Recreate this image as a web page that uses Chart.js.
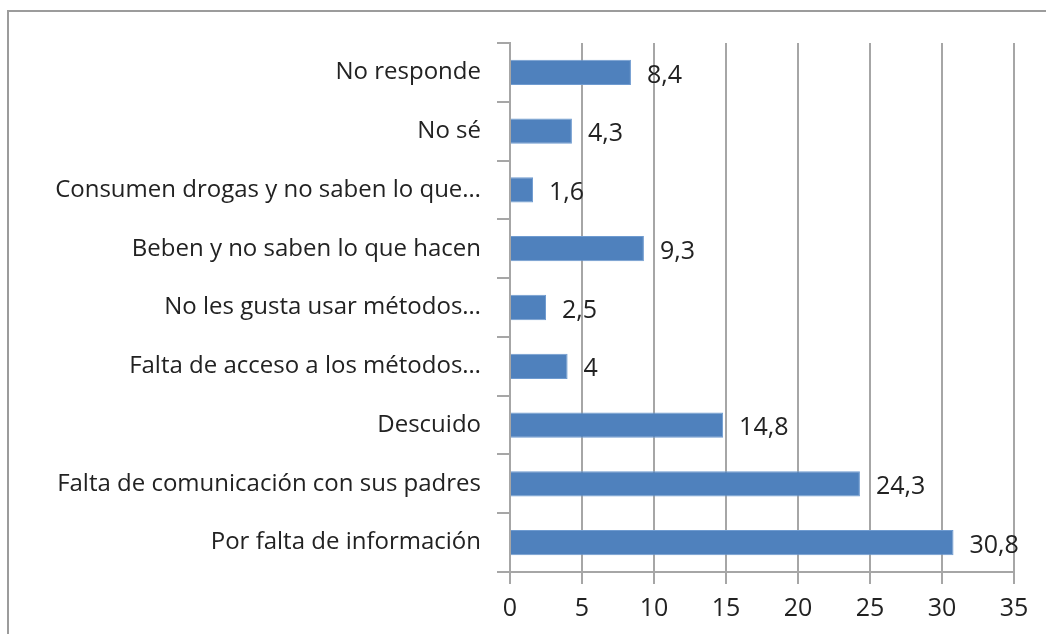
<!DOCTYPE html>
<html>
<head>
<meta charset="utf-8">
<script src="https://cdn.jsdelivr.net/npm/chart.js@4"></script>
<style>
    body { margin: 0; background: #fff; }
    #wrap { position: relative; width: 1046px; height: 634px; }
    #frame { position: absolute; left: 7px; top: 10px; width: 1100px; height: 700px;
             border-top: 2px solid #9c9c9c; border-left: 2px solid #9c9c9c; }
    canvas { position: absolute; left: 0; top: 0; }
</style>
</head>
<body>
<div id="wrap">
    <div id="frame"></div>
    <canvas id="myChart" width="1046" height="634"></canvas>
</div>
<script>
var categories = [
    'No responde',
    'No sé',
    'Consumen drogas y no saben lo que…',
    'Beben y no saben lo que hacen',
    'No les gusta usar métodos…',
    'Falta de acceso a los métodos…',
    'Descuido',
    'Falta de comunicación con sus padres',
    'Por falta de información'
]
var values = [8.4, 4.3, 1.6, 9.3, 2.5, 4, 14.8, 24.3, 30.8]
var xticks = [0, 5, 10, 15, 20, 25, 30, 35]

const fontFam = "'Open Sans', 'Liberation Sans', sans-serif";

const valueLabels = {
    id: 'valueLabels',
    afterDatasetsDraw: chart => {
        let ctx = chart.ctx;
        let meta = chart.getDatasetMeta(0);
        ctx.save();
        ctx.font = '25px ' + fontFam;
        ctx.fillStyle = '#222';
        ctx.textBaseline = 'middle';
        ctx.textAlign = 'left';
        meta.data.forEach((bar, i) => {
            let txt = String(values[i]).replace('.', ',');
            ctx.fillText(txt, bar.x + 16, bar.y + 3);
        });
        ctx.restore();
    }
};

const ctx = document.getElementById('myChart');
new Chart(ctx, {
    type: 'bar',
    data: {
        labels: categories,
        datasets: [{
            data: values,
            backgroundColor: '#4f81bd',
            borderColor: '#6f9bd0',
            borderWidth: 1,
            barPercentage: 0.43,
            categoryPercentage: 1
        }]
    },
    options: {
        indexAxis: 'y',
        responsive: false,
        animation: false,
        layout: {
            padding: { left: 0, right: 32, top: 43, bottom: 0 }
        },
        scales: {
            x: {
                min: 0,
                max: 35,
                afterBuildTicks: scale => {
                    scale.ticks = xticks.map(v => ({ value: v }));
                },
                afterFit: scale => { scale.height = 62; },
                grid: {
                    color: '#a6a6a6',
                    lineWidth: 2,
                    tickLength: 12
                },
                border: { color: '#a6a6a6', width: 2 },
                ticks: {
                    color: '#222',
                    padding: 10,
                    font: { family: fontFam, size: 25 }
                }
            },
            y: {
                afterFit: scale => { scale.width = 510; },
                grid: {
                    offset: true,
                    drawOnChartArea: false,
                    color: '#a6a6a6',
                    lineWidth: 2,
                    tickLength: 13
                },
                border: { color: '#a6a6a6', width: 2 },
                ticks: {
                    color: '#222',
                    padding: 16,
                    autoSkip: false,
                    font: { family: fontFam, size: 24 }
                }
            }
        },
        plugins: {
            legend: { display: false },
            tooltip: { enabled: false }
        }
    },
    plugins: [valueLabels]
});
</script>
</body>
</html>
